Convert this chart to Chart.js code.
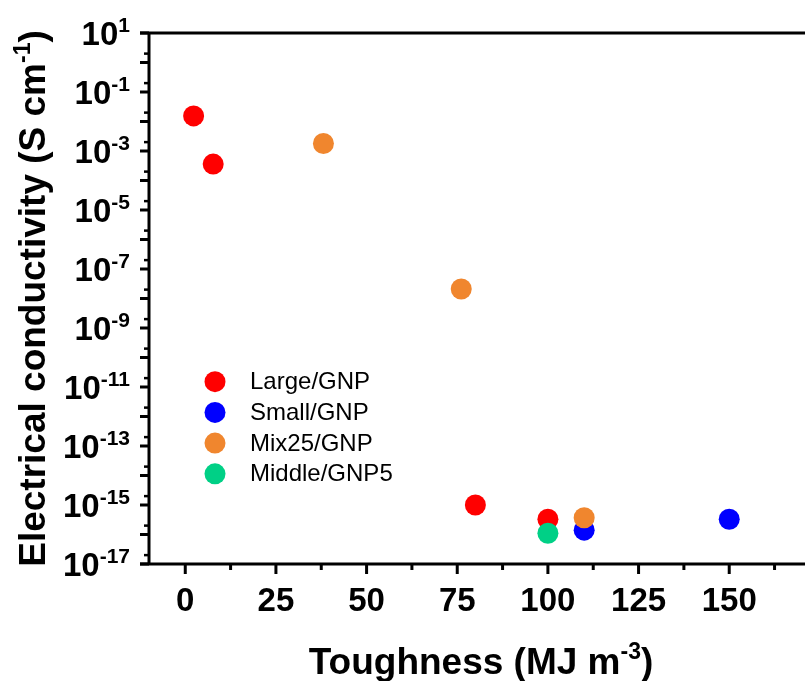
<!DOCTYPE html>
<html><head><meta charset="utf-8">
<script src="https://cdn.jsdelivr.net/npm/chart.js@4/dist/chart.umd.min.js"></script>
<style>html,body{margin:0;padding:0;background:#fff;overflow:hidden}#wrap{width:805px;height:681px;position:relative}</style>
</head><body><div id="wrap"><canvas id="c" width="805" height="681"></canvas></div>
<script>
// ---- data ----
const seriesNames = ['Large/GNP', 'Small/GNP', 'Mix25/GNP', 'Middle/GNP5'];
const seriesColors = ['#FF0000', '#0000FF', '#F0862E', '#00D086'];
const largeX = [2.3, 7.7, 80, 100];
const largeY = [1.55e-2, 3.6e-4, 1.0e-15, 3.3e-16];
const smallX = [110, 150];
const smallY = [1.4e-16, 3.3e-16];
const mixX = [38.1, 76.1, 110];
const mixY = [1.8e-3, 2.1e-8, 3.7e-16];
const middleX = [100];
const middleY = [1.1e-16];
const xMajorTicks = [0, 25, 50, 75, 100, 125, 150];
const xMinorTicks = [12.5, 37.5, 62.5, 87.5, 112.5, 137.5, 162.5];
const yLabelExponents = [1, -1, -3, -5, -7, -9, -11, -13, -15, -17];
const yDecadeExponents = [1,0,-1,-2,-3,-4,-5,-6,-7,-8,-9,-10,-11,-12,-13,-14,-15,-16,-17];
const xTitleMain = 'Toughness (MJ m', xTitleSup = '-3', xTitleEnd = ')';
const yTitleMain = 'Electrical conductivity (S cm', yTitleSup = '-1', yTitleEnd = ')';

const FONT = '"Liberation Sans", Arial, Helvetica, sans-serif';
function pts(xs, ys) { return xs.map((x, i) => ({ x: x, y: ys[i] })); }

const seriesX = [largeX, smallX, mixX, middleX];
const seriesY = [largeY, smallY, mixY, middleY];
const drawOrder = [3, 2, 1, 0];

const datasets = seriesNames.map((n, i) => ({
  label: n,
  data: pts(seriesX[i], seriesY[i]),
  backgroundColor: seriesColors[i],
  borderColor: seriesColors[i],
  borderWidth: 0,
  pointRadius: 10.5,
  pointHoverRadius: 10.5,
  showLine: false,
  order: drawOrder[i]
}));

function drawSupText(ctx, x, y, main, sup, end, mainFont, supFont, supRise, align) {
  ctx.font = mainFont; const w1 = ctx.measureText(main).width; const w3 = ctx.measureText(end).width;
  ctx.font = supFont; const w2 = ctx.measureText(sup).width;
  const total = w1 + w2 + w3;
  let sx = align === 'center' ? x - total / 2 : (align === 'right' ? x - total : x);
  ctx.textAlign = 'left'; ctx.textBaseline = 'alphabetic';
  ctx.font = mainFont; ctx.fillText(main, sx, y);
  ctx.font = supFont; ctx.fillText(sup, sx + w1, y - supRise);
  ctx.font = mainFont; ctx.fillText(end, sx + w1 + w2, y);
}

const axesPlugin = {
  id: 'axesPlugin',
  afterDraw(chart) {
    const ctx = chart.ctx, xs = chart.scales.x, ys = chart.scales.y, a = chart.chartArea;
    ctx.save();
    ctx.strokeStyle = '#000'; ctx.fillStyle = '#000'; ctx.lineCap = 'butt';
    const W = chart.width;
    // frame lines
    ctx.lineWidth = 3;
    ctx.beginPath();
    ctx.moveTo(a.left, a.top - 1.5); ctx.lineTo(a.left, a.bottom + 1.5);
    ctx.moveTo(140, a.top); ctx.lineTo(W, a.top);
    ctx.moveTo(140, a.bottom); ctx.lineTo(W, a.bottom);
    ctx.stroke();
    // y ticks
    yDecadeExponents.forEach(e => {
      const y = ys.getPixelForValue(Math.pow(10, e));
      ctx.lineWidth = 3; ctx.beginPath(); ctx.moveTo(140, y); ctx.lineTo(a.left, y); ctx.stroke();
      if (e < 1) {
        const ym = ys.getPixelForValue(2 * Math.pow(10, e));
        ctx.lineWidth = 2.5; ctx.beginPath(); ctx.moveTo(144, ym); ctx.lineTo(a.left, ym); ctx.stroke();
      }
    });
    // x ticks
    xMajorTicks.forEach(v => {
      const x = xs.getPixelForValue(v);
      ctx.lineWidth = 3; ctx.beginPath(); ctx.moveTo(x, a.bottom); ctx.lineTo(x, a.bottom + 10); ctx.stroke();
    });
    xMinorTicks.forEach(v => {
      const x = xs.getPixelForValue(v);
      ctx.lineWidth = 3; ctx.beginPath(); ctx.moveTo(x, a.bottom); ctx.lineTo(x, a.bottom + 6); ctx.stroke();
    });
    // y tick labels
    yLabelExponents.forEach(e => {
      const y = ys.getPixelForValue(Math.pow(10, e));
      drawSupText(ctx, 130, y + 12, '10', String(e), '', 'bold 33px ' + FONT, 'bold 21px ' + FONT, 13, 'right');
    });
    // x tick labels
    ctx.font = 'bold 33px ' + FONT; ctx.textAlign = 'center'; ctx.textBaseline = 'alphabetic';
    xMajorTicks.forEach(v => {
      ctx.fillText(String(v), xs.getPixelForValue(v), 611);
    });
    // x title
    drawSupText(ctx, 481, 674, xTitleMain, xTitleSup, xTitleEnd, 'bold 37px ' + FONT, 'bold 23px ' + FONT, 15, 'center');
    // y title
    ctx.save();
    ctx.translate(45, 298.5); ctx.rotate(-Math.PI / 2);
    drawSupText(ctx, 0, 0, yTitleMain, yTitleSup, yTitleEnd, 'bold 37px ' + FONT, 'bold 23px ' + FONT, 15, 'center');
    ctx.restore();
    // legend
    const rows = [381.7, 412.4, 443.1, 473.8];
    chart.data.datasets.forEach((ds, i) => {
      ctx.fillStyle = ds.backgroundColor;
      ctx.beginPath(); ctx.arc(215, rows[i], 10.5, 0, Math.PI * 2); ctx.fill();
      ctx.fillStyle = '#000'; ctx.font = '24px ' + FONT; ctx.textAlign = 'left'; ctx.textBaseline = 'middle';
      ctx.fillText(ds.label, 250, rows[i] + 1);
    });
    ctx.restore();
  }
};

new Chart(document.getElementById('c'), {
  type: 'scatter',
  data: { datasets: datasets },
  options: {
    responsive: false,
    animation: false,
    layout: { padding: { left: 149, top: 33, right: 0, bottom: 117 } },
    plugins: { legend: { display: false }, tooltip: { enabled: false } },
    scales: {
      x: { type: 'linear', min: -10, max: 168, display: false },
      y: { type: 'logarithmic', min: 1e-17, max: 10, display: false }
    }
  },
  plugins: [axesPlugin]
});
</script>
</body></html>
